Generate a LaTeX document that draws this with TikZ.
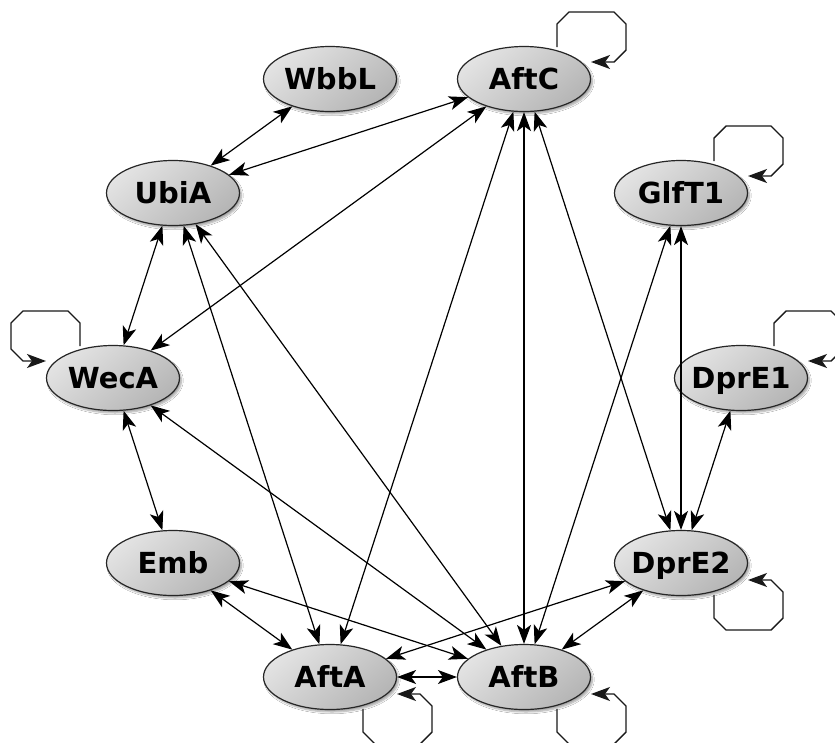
\documentclass[tikz,border=0pt]{standalone}
\usepackage{fontspec}
\newfontfamily\nodefont{DejaVu Sans}
\usetikzlibrary{shapes.geometric,arrows.meta,shadows.blur}
\newcommand\gn[1]{\makebox[0pt][c]{#1}}
\newcommand\selfloop[3]{\draw[loopline, shift={(#1)}, xscale=#2, yscale=#3] (33,-32) -- (33,-55) -- (45,-67) -- (90,-67) -- (102,-55) -- (102,-29) -- (90,-17) -- (67,-17);}
\begin{document}
\begin{tikzpicture}[x=1pt,y=-1pt,
  >={Stealth[length=19pt,width=14pt,inset=5pt]},
  gene/.style={ellipse, draw=black!85, line width=1.2pt,
    top color=gray!22, bottom color=gray!58, shading angle=40,
    blur shadow={shadow xshift=2pt, shadow yshift=-2.5pt, shadow opacity=35, shadow blur steps=6},
    minimum width=133pt, minimum height=65pt, inner sep=0pt,
    font=\nodefont\bfseries\fontsize{29}{30}\selectfont,
    text height=21pt, text depth=0pt},
  link/.style={line width=1.2pt, black, <->},
  loopline/.style={line width=1.4pt, black!90, line join=miter, ->}]
\useasboundingbox (0,0) rectangle (835,742);
\fill[white] (0,0) rectangle (835,742);
\clip (0,0) rectangle (835,742);

\node[gene] (DprE1) at (741,378) {\gn{DprE1}};
\node[gene] (GlfT1) at (681,193) {\gn{GlfT1}};
\node[gene] (AftC)  at (524,79)  {\gn{AftC}};
\node[gene] (WbbL)  at (330,79)  {\gn{WbbL}};
\node[gene] (UbiA)  at (173,193) {\gn{UbiA}};
\node[gene] (WecA)  at (113,378) {\gn{WecA}};
\node[gene] (Emb)   at (173,563) {\gn{Emb}};
\node[gene] (AftA)  at (330,677) {\gn{AftA}};
\node[gene] (AftB)  at (524,677) {\gn{AftB}};
\node[gene] (DprE2) at (681,563) {\gn{DprE2}};

\draw[link] (WbbL) -- (UbiA);
\draw[link] (UbiA) -- (AftC);
\draw[link] (WecA) -- (AftC);
\draw[link] (UbiA) -- (WecA);
\draw[link] (WecA) -- (Emb);
\draw[link] (AftC) -- (AftA);
\draw[link] (AftC) -- (AftB);
\draw[link] (AftC) -- (DprE2);
\draw[link] (GlfT1) -- (DprE2);
\draw[link] (GlfT1) -- (AftB);
\draw[link] (DprE1) -- (DprE2);
\draw[link] (UbiA) -- (AftA);
\draw[link] (UbiA) -- (AftB);
\draw[link] (WecA) -- (AftB);
\draw[link] (Emb) -- (AftA);
\draw[link] (Emb) -- (AftB);
\draw[link] (DprE2) -- (AftA);
\draw[link] (DprE2) -- (AftB);
\draw[link] (AftA) -- (AftB);

\selfloop{AftC}{1}{1}
\selfloop{GlfT1}{1}{1}
\selfloop{DprE1}{1}{1}
\selfloop{WecA}{-1}{1}
\selfloop{DprE2}{1}{-1}
\selfloop{AftA}{1}{-1}
\selfloop{AftB}{1}{-1}
\end{tikzpicture}
\end{document}
